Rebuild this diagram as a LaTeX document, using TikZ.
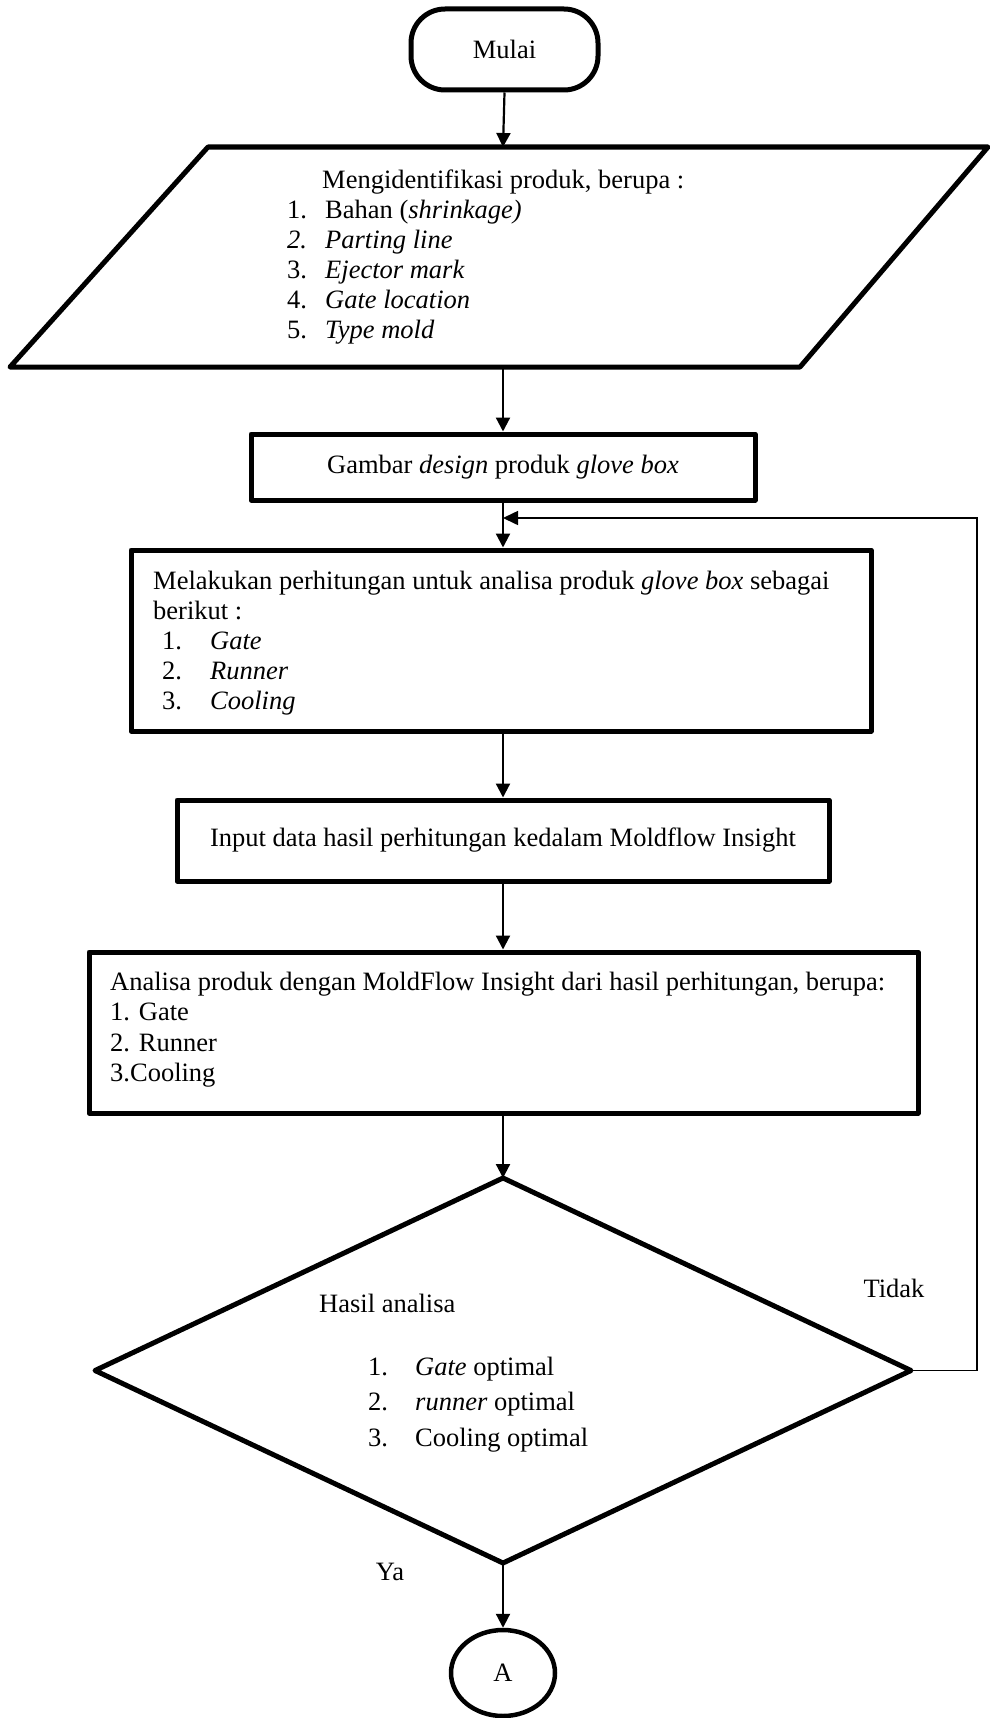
\documentclass[tikz,border=0pt]{standalone}
\usepackage{fontspec}
\setmainfont{Liberation Serif}
\usetikzlibrary{arrows.meta,shapes.geometric}
\begin{document}
\begin{tikzpicture}[x=1pt,y=-1pt,
  box/.style={draw, line width=5pt, line join=round, rectangle, inner sep=0pt, font=\fontsize{26.5}{30}\selectfont},
  ghost/.style={rectangle, inner sep=0pt, outer sep=0pt},
  outline/.style={line width=5pt, line join=round},
  conn/.style={line width=2.2pt, -{Triangle[length=14pt,width=14pt]}},
  loopline/.style={line width=1.6pt, -{Triangle[length=15pt,width=14pt]}},
  txt/.style={inner sep=0pt, font=\fontsize{26.5}{30}\selectfont},
  listtxt/.style={inner sep=0pt, anchor=base west},
]
\useasboundingbox (0,0) rectangle (989,1718);

% Start terminal
\node[box, rounded corners=34pt, minimum width=187pt, minimum height=81pt] (start) at (504.5,49.5) {Mulai};

% Input/identification parallelogram
\node[ghost, minimum width=10pt, minimum height=220pt] (ident) at (503,257) {};
\draw[outline] (208,147) -- (988,147) -- (800,367) -- (10,367) -- cycle;
\node[listtxt] (identtxt) at (287,188) {\fontsize{26.5}{30}\selectfont
  \begin{tabular}[t]{@{}l@{}}
  \hspace*{35pt}Mengidentifikasi produk, berupa :\\
  \makebox[38pt][l]{1.}Bahan (\textit{shrinkage)}\\
  \makebox[38pt][l]{\textit{2.}}\textit{Parting line}\\
  \makebox[38pt][l]{3.}\textit{Ejector mark}\\
  \makebox[38pt][l]{4.}\textit{Gate location}\\
  \makebox[38pt][l]{5.}\textit{Type mold}
  \end{tabular}};

% Gambar
\node[box, minimum width=504pt, minimum height=66pt] (gambar) at (503,467) {Gambar \textit{design} produk \textit{glove box}};

% Perhitungan
\node[box, minimum width=740pt, minimum height=181pt] (hitung) at (501,640.5) {};
\node[listtxt] (hitungtxt) at (153,589) {\fontsize{26.5}{30}\selectfont
  \begin{tabular}[t]{@{}l@{}}
  Melakukan perhitungan untuk analisa produk \textit{glove box} sebagai\\
  berikut :\\
  \hspace*{9pt}\makebox[48pt][l]{1.}\textit{Gate}\\
  \hspace*{9pt}\makebox[48pt][l]{2.}\textit{Runner}\\
  \hspace*{9pt}\makebox[48pt][l]{3.}\textit{Cooling}
  \end{tabular}};

% Input data
\node[box, minimum width=652pt, minimum height=81pt] (input) at (503,840.5) {Input data hasil perhitungan kedalam Moldflow Insight};

% Analisa
\node[box, minimum width=829pt, minimum height=161pt] (analisa) at (503.5,1032.5) {};
\node[listtxt] (analisatxt) at (110,990) {\fontsize{26.5}{30.5}\selectfont
  \begin{tabular}[t]{@{}l@{}}
  Analisa produk dengan MoldFlow Insight dari hasil perhitungan, berupa:\\
  1. Gate\\
  2. Runner\\
  3.Cooling
  \end{tabular}};

% Decision
\node[ghost, minimum width=816pt, minimum height=385pt] (dec) at (503,1370.5) {};
\draw[outline] (dec.north) -- (dec.east) -- (dec.south) -- (dec.west) -- cycle;
\node[listtxt] (hasil) at (319,1312) {\fontsize{26.5}{30}\selectfont Hasil analisa};
\node[listtxt] (hasiltxt) at (368,1375) {\fontsize{26.5}{35.5}\selectfont
  \begin{tabular}[t]{@{}l@{}}
  \makebox[47pt][l]{1.}\textit{Gate} optimal\\
  \makebox[47pt][l]{2.}\textit{runner} optimal\\
  \makebox[47pt][l]{3.}Cooling optimal
  \end{tabular}};

% Connector A
\node[draw, ellipse, line width=4.5pt, inner sep=0pt, minimum width=104pt, minimum height=86pt, font=\fontsize{26.5}{30}\selectfont] (circA) at (503,1673) {A};

% Labels
\node[txt] (tidak) at (894,1288) {Tidak};
\node[txt] (ya) at (390,1572) {Ya};

% Connectors
\coordinate (lp1) at (977,518);
\coordinate (merge) at (503,518);
\draw[conn] (start.south) -- (ident.north);
\draw[conn] (ident.south) -- (gambar.north);
\draw[conn] (gambar.south) -- (gambar.south |- hitung.north);
\draw[conn] (input.north |- hitung.south) -- (input.north);
\draw[conn] (input.south) -- (input.south |- analisa.north);
\draw[conn] (dec.north |- analisa.south) -- (dec.north);
\draw[conn] (dec.south) -- (circA.north);
\draw[loopline] (dec.east) -| (lp1) -- (merge);
\end{tikzpicture}
\end{document}
